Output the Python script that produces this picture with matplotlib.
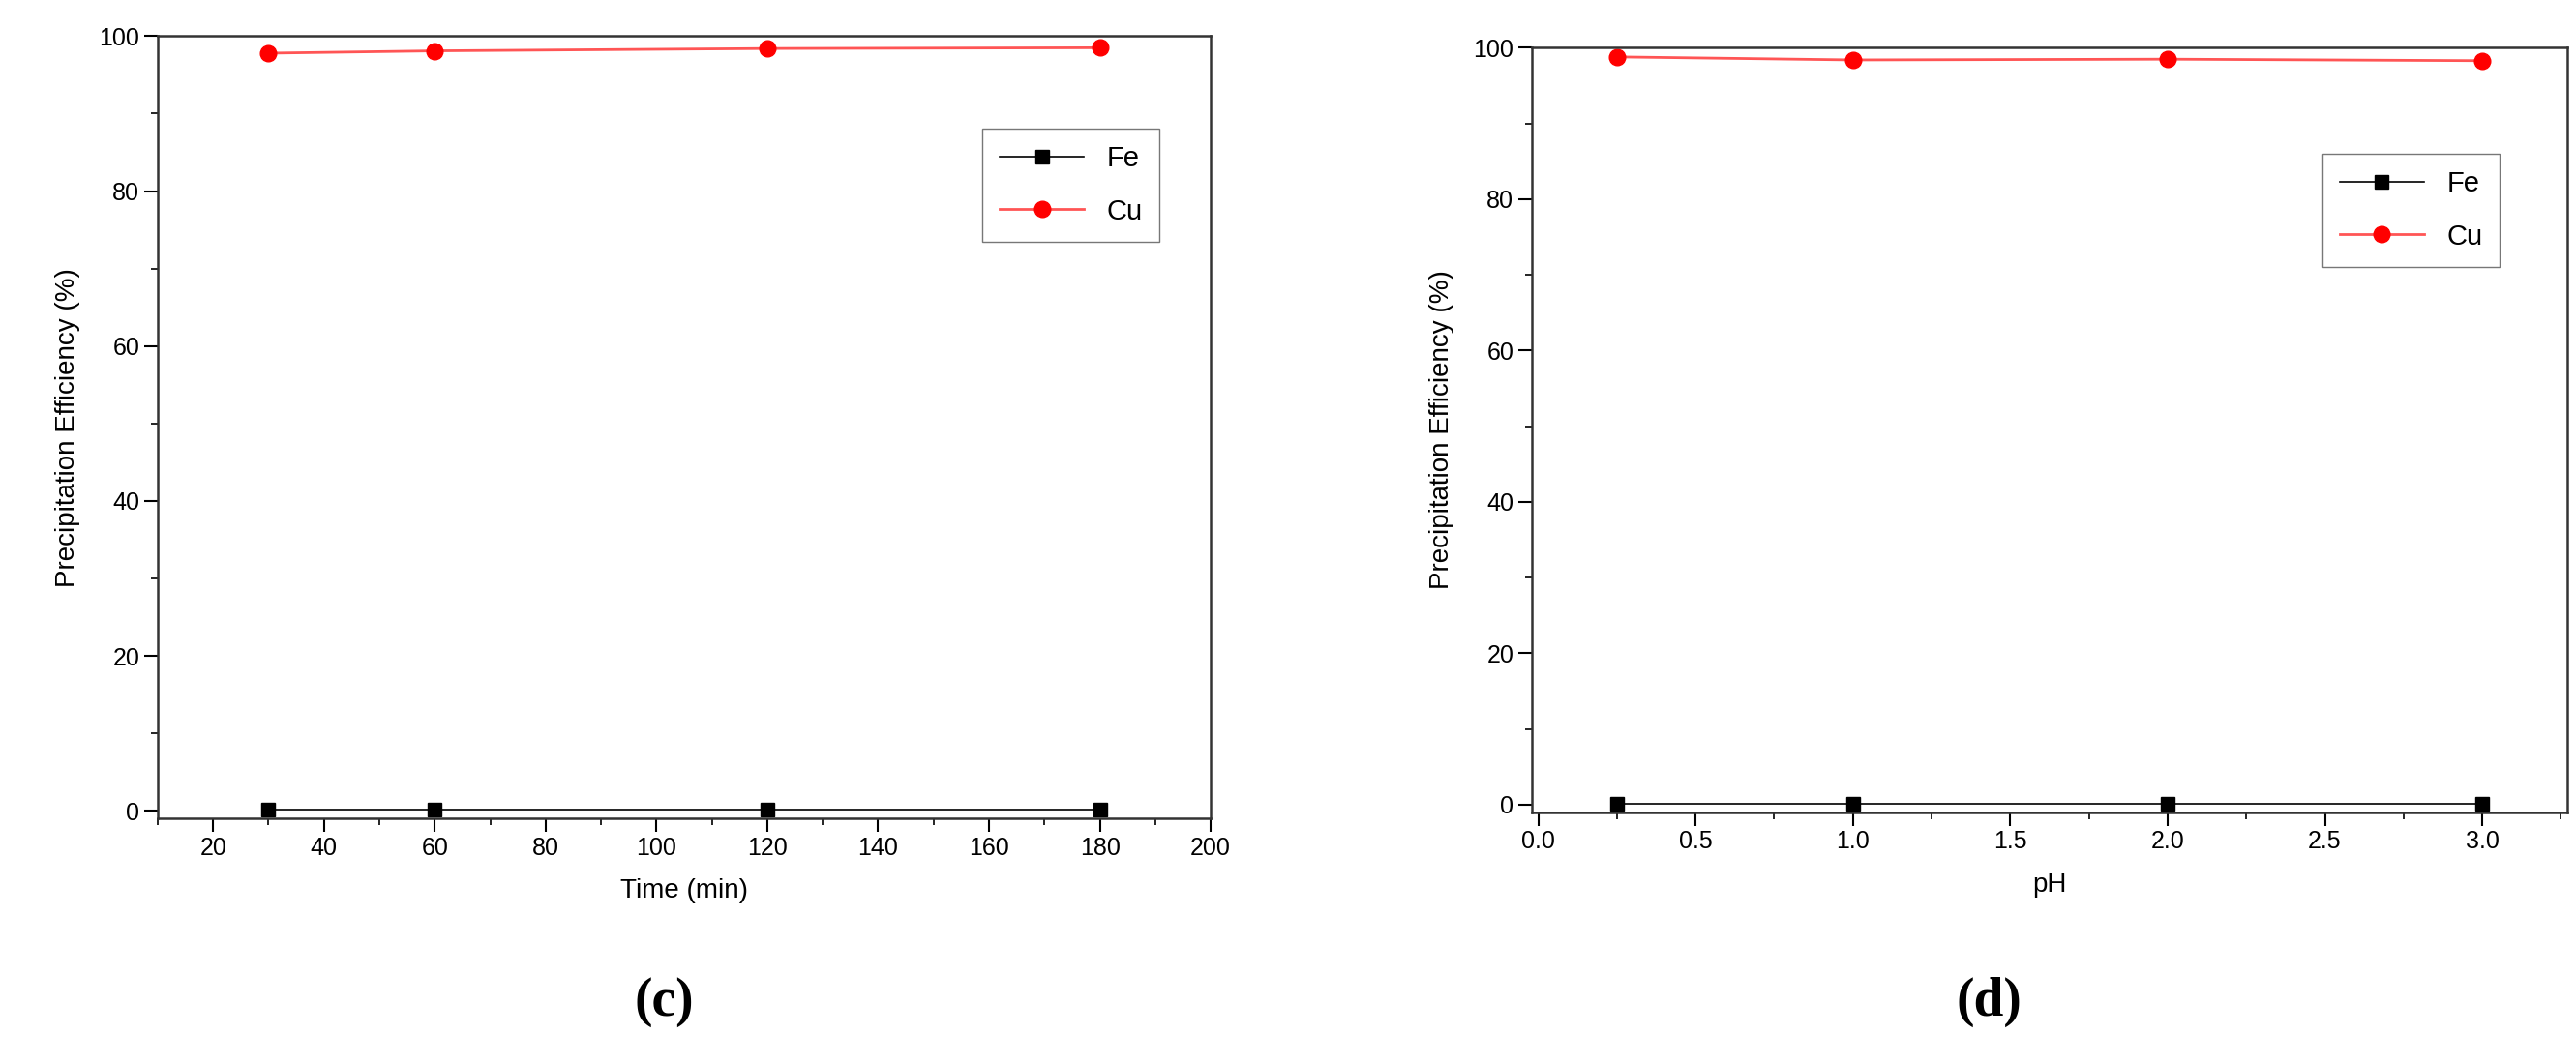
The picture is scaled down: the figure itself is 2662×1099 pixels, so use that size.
import matplotlib
matplotlib.use("Agg")
import matplotlib.pyplot as plt
from matplotlib.ticker import AutoMinorLocator

time_min = [30, 60, 120, 180]
fe_time = [0.1, 0.1, 0.1, 0.1]
cu_time = [97.8, 98.1, 98.4, 98.5]

ph = [0.25, 1.0, 2.0, 3.0]
fe_ph = [0.1, 0.1, 0.1, 0.1]
cu_ph = [98.8, 98.4, 98.5, 98.3]

plt.rcParams['font.family'] = ['Liberation Sans', 'DejaVu Sans']
fig = plt.figure(figsize=(26.62, 10.99), dpi=100)

ax1 = fig.add_axes([0.0612, 0.230, 0.4088, 0.736])
ax2 = fig.add_axes([0.5947, 0.236, 0.4019, 0.719])


def style(ax, x, fe, cu, xlabel, legloc):
    ax.plot(x, fe, color="black", marker="s", ms=10, lw=1.2, label="Fe")
    ax.plot(x, cu, color="#ff5555", marker="o", ms=12, mfc="red", mec="red",
            lw=2, label="Cu")
    ax.set_ylim(-1, 100)
    ax.set_yticks([0, 20, 40, 60, 80, 100])
    ax.xaxis.set_minor_locator(AutoMinorLocator(2))
    ax.yaxis.set_minor_locator(AutoMinorLocator(2))
    ax.tick_params(direction="out", length=10, width=1.5, labelsize=18)
    ax.tick_params(which="minor", direction="out", length=5, width=1.2)
    for s in ax.spines.values():
        s.set_linewidth(1.8)
        s.set_color("#333333")
    ax.set_xlabel(xlabel, fontsize=20, labelpad=14)
    ax.set_ylabel("Precipitation Efficiency (%)", fontsize=20, labelpad=14)
    ax.legend(loc="upper left", bbox_to_anchor=legloc, fontsize=21,
              fancybox=False, edgecolor="#555555", handlelength=3.0,
              borderpad=0.6, labelspacing=0.9)


style(ax1, time_min, fe_time, cu_time, "Time (min)", (0.77, 0.9))
ax1.set_xlim(10, 200)
ax1.set_xticks(range(20, 201, 20))

style(ax2, ph, fe_ph, cu_ph, "pH", (0.75, 0.88))
ax2.set_xlim(-0.02, 3.27)
ax2.set_xticks([0.0, 0.5, 1.0, 1.5, 2.0, 2.5, 3.0])
ax2.set_xticklabels(["0.0", "0.5", "1.0", "1.5", "2.0", "2.5", "3.0"])

fig.text(0.258, 0.045, "(c)", ha="center", fontsize=40, fontweight="bold",
         family="Liberation Serif")
fig.text(0.772, 0.045, "(d)", ha="center", fontsize=40, fontweight="bold",
         family="Liberation Serif")

fig.savefig("out.png", dpi=100)
